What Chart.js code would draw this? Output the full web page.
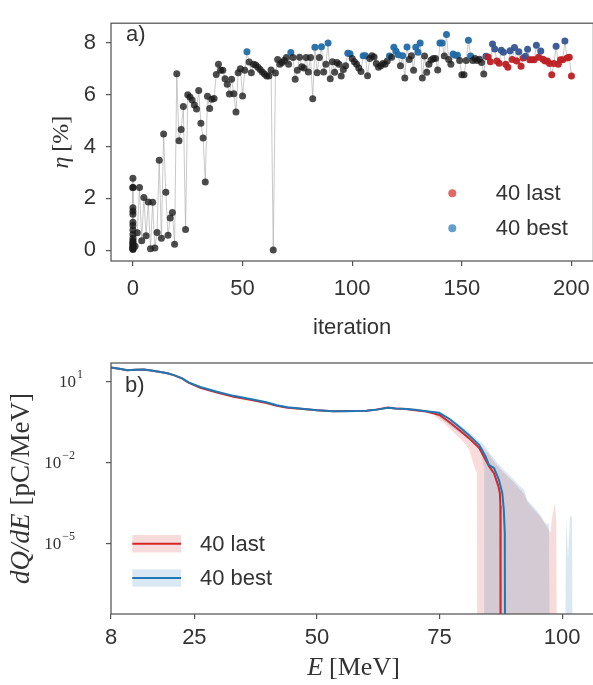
<!DOCTYPE html>
<html><head><meta charset="utf-8">
<script src="https://cdn.jsdelivr.net/npm/chart.js@4.4.1/dist/chart.umd.min.js"></script>
<style>
html,body{margin:0;padding:0;overflow:hidden;background:#fff;width:593px;height:685px;}
#wrap{position:relative;width:593px;height:685px;overflow:hidden;}
canvas{position:absolute;left:0;}
#c1{top:0}
#c2{top:340px}
</style></head><body>
<div id="wrap"><canvas id="c1" width="600" height="340"></canvas><canvas id="c2" width="600" height="345"></canvas></div>
<script>
// ---------------- panel a) data ----------------
// efficiency of the initial population (iteration 0)
const etaInitial = [2.77, 2.42, 2.42, 1.64, 1.50, 1.38, 1.08, 0.95, 0.78, 0.60, 0.45, 0.35, 0.25, 0.15, 0.10, 0.05, 0.02, 0.30, 0.20, 0.05];
// efficiency for iterations 1..200 (index i -> iteration i+1)
const etaRun = [
 0.15, 0.67, 2.42, 0.36, 2.03, 0.55, 1.86, 0.05, 1.85, 0.08,
 0.68, 3.47, 0.46, 4.48, 2.23, 0.57, 1.24, 1.45, 0.23, 6.81,
 4.22, 4.66, 5.54, 0.80, 6.00, 5.91, 5.80, 5.60, 5.45, 6.16,
 4.90, 4.33, 2.63, 5.94, 5.47, 5.82, 5.85, 6.78, 7.18, 6.94,
 6.94, 6.62, 6.40, 6.03, 6.60, 6.04, 5.33, 6.85, 7.00, 5.95,
 6.94, 7.66, 7.26, 6.85, 7.18, 7.15, 7.06, 6.97, 6.88, 6.80,
 6.72, 6.72, 6.95, 0.00, 6.84, 7.36, 7.18, 7.24, 7.32, 7.44,
 7.18, 7.63, 7.44, 6.60, 6.94, 7.45, 7.08, 7.03, 7.44, 6.88,
 7.44, 5.84, 7.83, 6.85, 7.44, 7.85, 6.88, 7.18, 8.00, 6.62,
 7.27, 6.87, 7.24, 7.18, 6.72, 6.97, 7.12, 7.60, 7.58, 7.40,
 7.27, 7.18, 7.03, 6.90, 7.50, 7.50, 6.73, 7.40, 7.50, 7.46,
 7.20, 7.06, 7.12, 7.20, 7.18, 7.30, 7.49, 7.45, 7.83, 7.68,
 7.54, 7.12, 7.50, 6.64, 7.84, 7.36, 7.50, 6.94, 7.83, 7.64,
 8.00, 6.64, 7.49, 6.87, 7.18, 7.34, 7.40, 7.40, 6.95, 8.00,
 8.00, 7.49, 8.32, 7.36, 7.18, 7.57, 7.52, 7.52, 7.32, 6.77,
 6.77, 7.32, 8.10, 7.49, 7.32, 7.40, 7.32, 7.37, 7.24, 6.80,
 7.48, 7.46, 7.27, 7.96, 7.76, 7.30, 7.21, 7.72, 7.64, 7.18,
 7.06, 7.70, 7.36, 7.82, 7.30, 7.66, 7.10, 7.42, 7.48, 7.75,
 7.35, 7.35, 7.35, 7.91, 7.45, 7.69, 7.37, 7.30, 7.30, 7.20,
 6.77, 7.20, 7.87, 7.18, 7.35, 7.35, 8.07, 7.42, 7.45, 6.72
];
const bestIters = [52,72,83,86,89,98,99,105,106,117,119,120,121,123,125,129,130,131,140,141,143,146,147,148,153,154,
                   161,164,165,168,169,172,174,176,179,180,184,186,193,197];
const lastIters = [161,162,163,164,165,166,167,168,169,170,171,172,173,174,175,176,177,178,179,180,
                   181,182,183,184,185,186,187,188,189,190,191,192,193,194,195,196,197,198,199,200];
const xTicksA = [0, 50, 100, 150, 200];
const yTicksA = [0, 2, 4, 6, 8];
const legendA = ['40 last', '40 best'];

// ---------------- panel b) data ----------------
const blueE = [8, 10, 11.3, 13, 14.7, 16.5, 18.1, 19.5, 20.8, 22.5, 23.8, 26.2, 29.6, 33, 36.4, 39.7, 41.8, 44, 46.5, 50,
               53.3, 56, 60.1, 62, 64.5, 66, 68.2, 70, 72.3, 74.9, 76.9, 79, 81, 83.1, 84.4, 85.1, 86.1, 87.1, 87.8, 88.1, 88.3, 88.4];
const blueQ = [33.9, 30.2, 26.9, 28.2, 28.8, 25.7, 23.4, 20.9, 17.8, 13.5, 9.55, 6.46, 4.27, 3.02, 2.29, 1.74, 1.35, 1.15, 1.02, 0.891,
               0.813, 0.813, 0.851, 0.912, 1.10, 1.02, 0.977, 0.912, 0.813, 0.708, 0.437, 0.214, 0.105, 0.0447, 0.0166, 0.00813, 0.00631, 0.00229, 7.24e-4, 1.78e-4, 2.40e-5, 1e-12];
const redE = [8, 10, 11.3, 13, 14.7, 16.5, 18.1, 19.5, 20.8, 22.5, 23.8, 26.2, 29.6, 33, 36.4, 39.7, 41.8, 44, 46.5, 50,
              53.3, 56, 60.1, 62, 64.5, 66, 68.2, 70, 72.3, 75, 76.9, 79, 81, 83.1, 85.1, 86.1, 87, 87.3, 87.4, 87.45];
const redQ = [33.9, 30.2, 26.9, 28.2, 28.8, 25.7, 23.4, 20.9, 17.8, 13.5, 9.33, 6.03, 3.98, 2.82, 2.14, 1.62, 1.29, 1.10, 1.00, 0.891,
              0.813, 0.832, 0.851, 0.93, 1.12, 1.02, 0.977, 0.89, 0.79, 0.589, 0.331, 0.162, 0.0813, 0.0347, 0.00724, 0.00407, 0.00132, 7.24e-4, 2.51e-4, 1e-12];
const bandE = [74, 76, 78, 80, 81, 82, 82.6, 82.7, 83.5, 84.1, 84.2, 85.1, 86.5, 88.5, 90, 91.2, 92.2, 92.9, 94, 95.3,
               96.6, 97.3, 97.6, 98.0, 98.5, 98.8, 99.0, 100.5, 100.8, 101.2, 101.6, 102.0, 102.2];
const blueUpper = [0.794, 0.562, 0.355, 0.191, 0.135, 0.0955, 0.0759, 0.0724, 0.0562, 0.0447, 0.0427, 0.0251, 0.0112, 0.00457, 0.00251, 0.00145, 0.001, 4.07e-4, 2.51e-4, 1.32e-4,
                   5.62e-5, 5.01e-5, 1e-12, 1e-12, 1e-12, 1e-12, 1e-12, 1e-12, 7.94e-5, 3.16e-6, 1e-4, 1e-4, 1e-12];
const blueLower = [0.631, 0.355, 0.178, 0.1, 0.0708, 0.0501, 0.0398, 0.038, 0.02, 0.00631, 1e-12, 1e-12, 1e-12, 1e-12, 1e-12, 1e-12, 1e-12, 1e-12, 1e-12, 1e-12,
                   1e-12, 1e-12, 1e-12, 1e-12, 1e-12, 1e-12, 1e-12, 1e-12, 1e-12, 1e-12, 1e-12, 1e-12, 1e-12];
const redUpper = [0.676, 0.447, 0.282, 0.141, 0.1, 0.0708, 0.0562, 0.0537, 0.0398, 0.0316, 0.0302, 0.02, 0.00891, 0.00355, 0.002, 0.00112, 7.08e-4, 3.55e-4, 2e-4, 1.12e-4,
                  5.01e-5, 3.16e-5, 2.51e-5, 1e-4, 3.16e-4, 6.31e-5, 1e-12, 1e-12, 1e-12, 1e-12, 1e-12, 1e-12, 1e-12];
const redLower = [0.501, 0.282, 0.126, 0.0562, 0.0316, 0.00794, 0.00398, 1e-12, 1e-12, 1e-12, 1e-12, 1e-12, 1e-12, 1e-12, 1e-12, 1e-12, 1e-12, 1e-12, 1e-12, 1e-12,
                  1e-12, 1e-12, 1e-12, 1e-12, 1e-12, 1e-12, 1e-12, 1e-12, 1e-12, 1e-12, 1e-12, 1e-12, 1e-12];
const xTicksB = [8, 25, 50, 75, 100];
const yTicksB = [10, 1e-2, 1e-5];
const yTickExpB = ['1', '\u22122', '\u22125'];
const legendB = ['40 last', '40 best'];

// ---------------- style ----------------
const SANS = "'Liberation Sans', Arial, sans-serif";
const SERIF = "'Liberation Serif', 'Times New Roman', serif";
const TXT = '#333';
const FRAME = '#555';
const RED = '#d62728', BLUE = '#1f77b4';
Chart.defaults.font.family = SANS;
Chart.defaults.color = TXT;

function mixed(ctx, parts, x, y, rot) {
  ctx.save();
  ctx.translate(x, y);
  if (rot) ctx.rotate(rot);
  ctx.textBaseline = 'middle';
  let w = 0;
  parts.forEach(p => { ctx.font = p.f; p.w = ctx.measureText(p.t).width; w += p.w + (p.g || 0); });
  let cx = -w / 2;
  ctx.fillStyle = TXT;
  parts.forEach(p => { ctx.font = p.f; ctx.fillText(p.t, cx, 0); cx += p.w + (p.g || 0); });
  ctx.restore();
}
function frame(chart) {
  const {ctx, chartArea: a} = chart;
  ctx.save();
  ctx.strokeStyle = FRAME; ctx.lineWidth = 1.25;
  ctx.strokeRect(a.left, a.top, a.right - a.left, a.bottom - a.top);
  ctx.restore();
}
function axisCommon(extra) {
  return Object.assign({
    grid: {drawOnChartArea: false, drawTicks: true, tickLength: 5, color: FRAME, lineWidth: 1.2},
    border: {display: false},
  }, extra);
}

// ---------------- chart a ----------------
const ptsA = [];
const colA = [];
function colorFor(it) {
  const b = bestIters.includes(it), l = lastIters.includes(it);
  if (b && l) return 'rgba(52,84,148,0.95)';
  if (l) return 'rgba(190,32,36,0.95)';
  if (b) return 'rgba(33,108,168,0.95)';
  return 'rgba(25,25,25,0.78)';
}
etaInitial.forEach(v => { ptsA.push({x: 0, y: v}); colA.push(colorFor(0)); });
etaRun.forEach((v, i) => { ptsA.push({x: i + 1, y: v}); colA.push(colorFor(i + 1)); });

new Chart(document.getElementById('c1'), {
  type: 'scatter',
  data: {datasets: [{
    data: ptsA, showLine: true, borderColor: 'rgba(165,165,165,0.6)', borderWidth: 1,
    pointRadius: 3.5, pointBorderWidth: 0, pointBackgroundColor: colA, tension: 0
  }]},
  options: {
    responsive: false, animation: false, devicePixelRatio: 1,
    layout: {padding: {left: 0, right: 4, top: 10, bottom: 0}},
    plugins: {legend: {display: false}, tooltip: {enabled: false}},
    scales: {
      x: axisCommon({type: 'linear', min: -10, max: 210,
        afterBuildTicks: s => { s.ticks = xTicksA.map(v => ({value: v})); },
        afterFit: s => { s.height = 79; },
        ticks: {font: {size: 22}, color: TXT, padding: 10, maxRotation: 0, autoSkip: false}}),
      y: axisCommon({type: 'linear', min: -0.42, max: 8.76,
        afterBuildTicks: s => { s.ticks = yTicksA.map(v => ({value: v})); },
        afterFit: s => { s.width = 111; },
        ticks: {font: {size: 22}, color: TXT, padding: 10, autoSkip: false}})
    }
  },
  plugins: [{id: 'decoA', afterDraw(chart) {
    frame(chart);
    const ctx = chart.ctx, a = chart.chartArea;
    ctx.save();
    ctx.fillStyle = TXT; ctx.textBaseline = 'middle';
    ctx.font = '22px ' + SANS;
    ctx.fillText('a)', 126, 35);
    // legend
    const lc = ['rgba(214,39,40,0.7)', 'rgba(31,119,180,0.7)'];
    [193.3, 228.3].forEach((y, i) => {
      ctx.beginPath(); ctx.fillStyle = lc[i]; ctx.arc(452.3, y, 4, 0, Math.PI * 2); ctx.fill();
      ctx.fillStyle = TXT; ctx.fillText(legendA[i], 495.7, y + 1);
    });
    ctx.restore();
    mixed(ctx, [{t: 'iteration', f: '22px ' + SANS}], (a.left + a.right) / 2, 327.6, 0);
    mixed(ctx, [{t: '\u03B7', f: 'italic 24px ' + SERIF, g: 5}, {t: '[%]', f: '24px ' + SERIF}], 62, (a.top + a.bottom) / 2, -Math.PI / 2);
  }}]
});

// ---------------- chart b ----------------
const xy = (xs, ys) => xs.map((x, i) => ({x, y: ys[i]}));
const lineDs = (d, c, order) => ({data: d, borderColor: c, borderWidth: 2, pointRadius: 0, tension: 0, fill: false, order});
const bandDs = (d, fill, c, order) => ({data: d, borderWidth: 0, borderColor: 'rgba(0,0,0,0)', pointRadius: 0, tension: 0, fill, backgroundColor: c, order});
const PINK = 'rgba(214,39,40,0.17)', LBLUE = 'rgba(31,119,180,0.17)';

new Chart(document.getElementById('c2'), {
  type: 'line',
  data: {datasets: [
    bandDs(xy(bandE, redUpper), '+1', PINK, 5),
    bandDs(xy(bandE, redLower), false, PINK, 5),
    bandDs(xy(bandE, blueUpper), '+1', LBLUE, 4),
    bandDs(xy(bandE, blueLower), false, LBLUE, 4),
    lineDs(xy(redE, redQ), RED, 1),
    lineDs(xy(blueE, blueQ), BLUE, 0)
  ]},
  options: {
    responsive: false, animation: false, devicePixelRatio: 1,
    layout: {padding: {left: 0, right: 4, top: 23, bottom: 0}},
    plugins: {legend: {display: false}, tooltip: {enabled: false}, filler: {propagate: false}},
    scales: {
      x: axisCommon({type: 'linear', min: 8, max: 106.9,
        afterBuildTicks: s => { s.ticks = xTicksB.map(v => ({value: v})); },
        afterFit: s => { s.height = 71; },
        ticks: {font: {size: 22}, color: TXT, padding: 6, maxRotation: 0, autoSkip: false}}),
      y: axisCommon({type: 'logarithmic', min: Math.pow(10, -7.62), max: Math.pow(10, 1.70),
        afterBuildTicks: s => { s.ticks = yTicksB.map(v => ({value: v})); },
        afterFit: s => { s.width = 111; },
        ticks: {callback: () => '', autoSkip: false}})
    }
  },
  plugins: [{id: 'decoB', afterDraw(chart) {
    frame(chart);
    const ctx = chart.ctx, a = chart.chartArea, ys = chart.scales.y;
    ctx.save();
    ctx.fillStyle = TXT; ctx.textBaseline = 'middle';
    ctx.font = '22px ' + SANS;
    ctx.fillText('b)', 125, 46);
    // log tick labels
    yTicksB.forEach((v, i) => {
      const y = ys.getPixelForValue(v);
      const ex = yTickExpB[i];
      const right = ex.length > 1 ? 75 : 83;
      ctx.font = '12px ' + SERIF; const ew = ctx.measureText(ex).width;
      ctx.font = '17px ' + SERIF; const bw = ctx.measureText('10').width;
      const x0 = right - ew - bw - 1;
      ctx.fillText('10', x0, y + 1);
      ctx.font = '12px ' + SERIF;
      ctx.fillText(ex, x0 + bw + 1, y - 7);
    });
    // legend
    const fills = [PINK, LBLUE], lines = [RED, BLUE];
    [203.7, 238].forEach((y, i) => {
      ctx.fillStyle = fills[i]; ctx.fillRect(132.3, y - 8.7, 48.7, 17.4);
      ctx.strokeStyle = lines[i]; ctx.lineWidth = 2;
      ctx.beginPath(); ctx.moveTo(132.3, y); ctx.lineTo(181, y); ctx.stroke();
      ctx.fillStyle = TXT; ctx.font = '22px ' + SANS; ctx.fillText(legendB[i], 200, y + 1);
    });
    ctx.restore();
    mixed(ctx, [{t: 'E', f: 'italic 26px ' + SERIF, g: 6}, {t: '[MeV]', f: '26px ' + SERIF}], (a.left + a.right) / 2, 328, 0);
    mixed(ctx, [{t: 'dQ/dE', f: 'italic 27px ' + SERIF, g: 8}, {t: '[pC/MeV]', f: '27px ' + SERIF}], 22, (a.top + a.bottom) / 2, -Math.PI / 2);
  }}]
});
</script>
</body></html>
